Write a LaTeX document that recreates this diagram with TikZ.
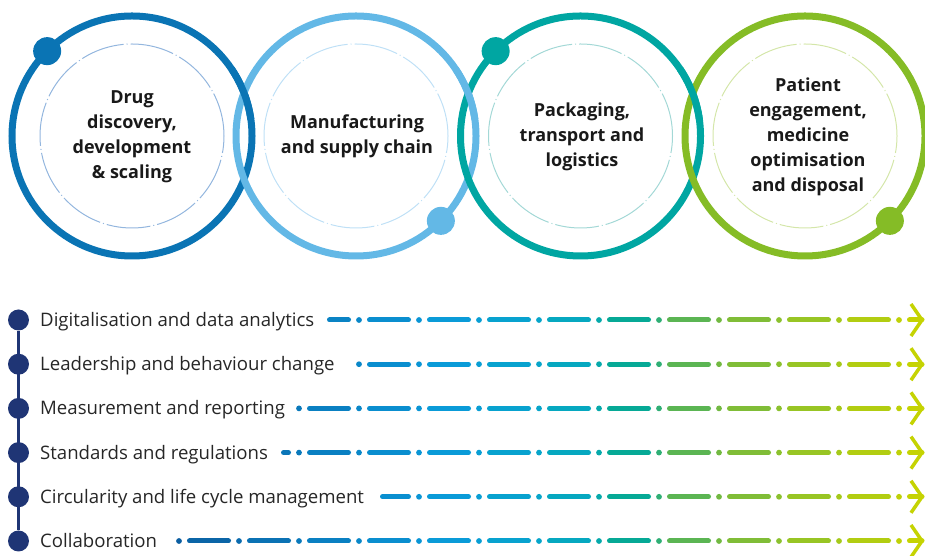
\documentclass[tikz,border=0pt]{standalone}
\usepackage{fontspec}
\setmainfont{Open Sans}
\usepackage{tikz}

\definecolor{ringA}{HTML}{0A74B4}
\definecolor{ringB}{HTML}{63B8E6}
\definecolor{ringC}{HTML}{00A6A2}
\definecolor{ringD}{HTML}{85BC26}
\definecolor{paleA}{HTML}{93B6DE}
\definecolor{paleB}{HTML}{BFE0F6}
\definecolor{paleC}{HTML}{A3D8D6}
\definecolor{paleD}{HTML}{D4E6A9}
\definecolor{navy}{HTML}{1F3575}
\definecolor{gA}{HTML}{0B5EA1}
\definecolor{gB}{HTML}{0A9ADA}
\definecolor{gC}{HTML}{06A8C6}
\definecolor{gD}{HTML}{06A995}
\definecolor{gE}{HTML}{6BB747}
\definecolor{gF}{HTML}{C8D400}

% colour of the dashed arrows at a given x
\newcommand\dashcol[1]{%
  \pgfmathsetmacro\dcx{#1}%
  \pgfmathtruncatemacro\seg{\dcx<440 ? 0 : (\dcx<560 ? 1 : (\dcx<630 ? 2 : (\dcx<700 ? 3 : 4)))}%
  \ifcase\seg
    \pgfmathtruncatemacro\pc{max(0,(\dcx-180)/2.6)}\colorlet{dc}{gB!\pc!gA}%
  \or \pgfmathtruncatemacro\pc{(\dcx-440)/1.2}\colorlet{dc}{gC!\pc!gB}%
  \or \pgfmathtruncatemacro\pc{(\dcx-560)/0.7}\colorlet{dc}{gD!\pc!gC}%
  \or \pgfmathtruncatemacro\pc{(\dcx-630)/0.7}\colorlet{dc}{gE!\pc!gD}%
  \or \pgfmathtruncatemacro\pc{min(100,(\dcx-700)/2.2)}\colorlet{dc}{gF!\pc!gE}%
  \fi}

\begin{document}
\begin{tikzpicture}[x=1pt,y=1pt,
    ring/.style={draw=#1,line width=7pt},
    guide/.style={draw=#1,line width=1pt,dash pattern=on 44pt off 3pt on 1pt off 3pt},
    stage/.style={font=\fontsize{18}{25}\selectfont\bfseries,align=center,text=black!90},
    topic/.style={font=\fontsize{18.6}{22}\selectfont,anchor=base west,inner sep=0pt,text=black!85},
    bullet/.style={circle,fill=navy,minimum size=21pt,inner sep=0pt},
    dashseg/.style={line width=5pt,line cap=round}]
\useasboundingbox (0,0) rectangle (925,556);

% stages
\node[stage] (s1) at (132,419.5) {Drug\\discovery,\\development\\\& scaling};
\node[stage] (s2) at (357,419.5) {Manufacturing\\and supply chain};
\node[stage] (s3) at (582,419.5) {Packaging,\\transport and\\logistics};
\node[stage] (s4) at (808,419.5) {Patient\\engagement,\\medicine\\optimisation\\and disposal};

\foreach \n/\x/\c/\l/\a in {s1/132/ringA/paleA/135, s2/356/ringB/paleB/-45, s3/580.5/ringC/paleC/135, s4/805/ringD/paleD/-45} {
  \draw[guide=\l] (\x,420) circle[radius=92];
  \draw[ring=\c] (\x,420) circle[radius=120];
  \fill[\c] (\x,420) ++(\a:120) circle[radius=14];
}
% links over the next ring
\foreach \x/\c in {132/ringA, 356/ringB, 580.5/ringC}
  \draw[ring=\c] (\x,420) ++(8:120) arc[start angle=8, end angle=34, radius=120];

% enablers
\foreach \y/\txt [count=\r] in {236/Digitalisation and data analytics,
    191.8/Leadership and behaviour change, 147.6/Measurement and reporting,
    103.4/Standards and regulations, 59.2/Circularity and life cycle management,
    15/Collaboration} {
  \node[bullet] (b\r) at (18.5,\y) {};
  \node[topic] (t\r) at (40,\y-6.5) {\txt};
}
\draw[navy,line width=2.5pt] (b1) -- (b6);

\foreach \yy/\xs [count=\r] in {236/327, 191.8/356, 147.6/296, 103.4/281, 59.2/380, 15/176} {
  \foreach \k in {2,...,14} {
    \pgfmathsetmacro\xd{59+60*\k}
    \pgfmathtruncatemacro\okd{\xd-3>=\xs}
    \ifnum\okd=1 \dashcol{\xd}\fill[dc] (\xd,\yy) circle[radius=2.9];\fi
    \ifnum\k<14
      \pgfmathsetmacro\xa{max(69.5+60*\k,\xs+2.5)}
      \pgfmathsetmacro\xb{108.5+60*\k}
      \pgfmathtruncatemacro\oka{\xa<\xb}
      \ifnum\oka=1 \dashcol{(\xa+\xb)/2}\draw[dashseg,dc] (\xa,\yy) -- (\xb,\yy);\fi
    \fi
  }
  \dashcol{915}
  \coordinate (tip\r) at (922,\yy);
  \draw[dashseg,dc] (909.5,\yy) -- (tip\r);
  \draw[dc,line width=3.5pt] (911,\yy+16) -- (tip\r) -- (911,\yy-16);
}
\end{tikzpicture}
\end{document}
